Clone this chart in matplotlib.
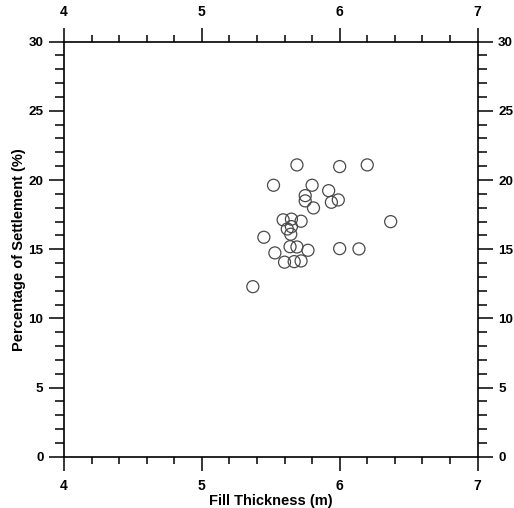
import matplotlib
matplotlib.use("Agg")
import matplotlib.pyplot as plt
from matplotlib.ticker import MultipleLocator

fill_thickness = [5.69, 6.00, 6.20, 5.52, 5.80, 5.92, 5.75, 5.75, 5.94, 5.99,
                  5.81, 6.37, 5.59, 5.65, 5.72, 5.62, 5.65, 5.645, 5.45, 5.64,
                  5.69, 5.77, 6.00, 6.14, 5.53, 5.60, 5.67, 5.72, 5.37]
settlement = [21.09, 20.97, 21.09, 19.62, 19.62, 19.23, 18.87, 18.49, 18.39, 18.56,
              17.98, 16.99, 17.12, 17.17, 17.02, 16.46, 16.63, 16.08, 15.86, 15.18,
              15.16, 14.92, 15.04, 15.02, 14.73, 14.06, 14.10, 14.15, 12.29]

x_ticks = [4, 5, 6, 7]
y_ticks = [0, 5, 10, 15, 20, 25, 30]

plt.rcParams['font.family'] = ['Liberation Sans', 'DejaVu Sans']

fig = plt.figure(figsize=(5.14, 5.08), dpi=100)
ax = fig.add_axes([0.1245, 0.101, 0.8045, 0.817])

ax.scatter(fill_thickness, settlement, s=75, facecolors='none',
           edgecolors='#4a4a4a', linewidths=0.9, zorder=3)

ax.set_xlim(4, 7)
ax.set_ylim(0, 30)
ax.set_xticks(x_ticks)
ax.set_yticks(y_ticks)
ax.xaxis.set_minor_locator(MultipleLocator(0.2))
ax.yaxis.set_minor_locator(MultipleLocator(1))

for s in ax.spines.values():
    s.set_linewidth(1.2)
    s.set_color('black')

ax.tick_params(which='both', direction='out', top=True, right=True,
               labeltop=True, labelright=True, width=1.1, color='black')
ax.tick_params(axis='x', which='major', length=10, pad=6, labelsize=10)
ax.tick_params(axis='x', which='minor', length=5)
ax.tick_params(axis='y', which='major', length=10.5, pad=4.3, labelsize=9.7)
ax.tick_params(axis='y', which='minor', length=6.5)
for t in ax.xaxis.get_major_ticks():
    t.label1.set_fontweight('bold')
    t.label2.set_fontweight('bold')
for t in ax.yaxis.get_major_ticks():
    t.label1.set_fontweight('bold')
    t.label2.set_fontweight('bold')

ax.set_xlabel('Fill Thickness (m)', fontsize=10.5, fontweight='bold', labelpad=1)
ax.set_ylabel('Percentage of Settlement (%)', fontsize=10.5, fontweight='bold', labelpad=2)

fig.savefig('out.png', dpi=100)
